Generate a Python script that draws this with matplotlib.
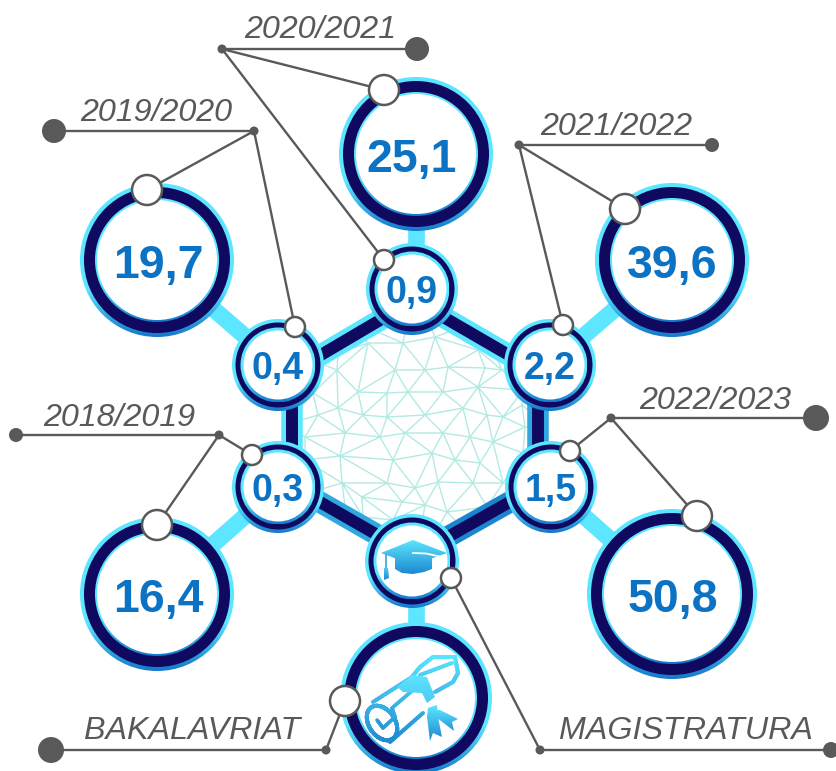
import numpy as np
import matplotlib
matplotlib.use("Agg")
import matplotlib.pyplot as plt
from matplotlib.patches import Circle, Polygon
from matplotlib.collections import LineCollection
from matplotlib.colors import LinearSegmentedColormap
from matplotlib.tri import Triangulation

plt.rcParams['font.family'] = ['Liberation Sans', 'DejaVu Sans']

# --- data
years = ["2018/2019", "2019/2020", "2020/2021", "2021/2022", "2022/2023"]
bakalavriat = ["16,4", "19,7", "25,1", "39,6", "50,8"]
magistratura = ["0,3", "0,4", "0,9", "2,2", "1,5"]
level_labels = ["BAKALAVRIAT", "MAGISTRATURA"]

# --- layout (pixels)
W, H = 837, 771
outer_xy = [(157, 594), (157, 260), (416, 154), (672, 260), (672, 594)]
outer_text_x = [158, 158, 412, 672, 673]
outer_r = [77, 77, 77, 77, 85]
inner_xy = [(278, 487), (278, 365), (412, 289), (550, 365), (551, 487)]
inner_r = [46, 46, 46, 46, 46]
link_start = [(278, 487), (278, 365), (416, 289), (550, 365), (551, 487)]
cap_xy, cap_r = (412, 561), 47
dip_xy, dip_r = (416, 698), 76
hex_xy = [(414, 300), (538, 372), (538, 486), (414, 556), (292, 486), (292, 372)]
hex_band = ["#5CE6FF", "#2FA8E0", "#1B86CF", "#2FA8E0", "#5CE6FF", "#5CE6FF"]
year_text_xy = [(119, 426), (156, 121), (320, 38), (616, 135), (715, 409)]
leaders = [
    dict(end=(16, 435), end_r=7, hub=(219, 435), a=(157, 525), b=(252, 455)),
    dict(end=(54, 131), end_r=12, hub=(254, 131), a=(147, 190), b=(295, 327)),
    dict(end=(417, 49), end_r=12, hub=(222, 49), a=(384, 90), b=(384, 260)),
    dict(end=(712, 145), end_r=7, hub=(519, 145), a=(625, 209), b=(563, 325)),
    dict(end=(816, 418), end_r=13, hub=(611, 418), a=(697, 516), b=(570, 451)),
]
mesh_x = [337, 358, 338, 363, 318, 305, 345, 380, 387, 408, 387, 395, 425, 443, 425, 405, 443, 463, 478, 448,
          487, 470, 493, 525, 432, 393, 340, 305, 342, 387, 362, 415, 455, 480, 438, 473, 503, 425, 402, 447,
          487, 363, 393, 523, 338, 368, 403, 435, 478, 485, 502, 523, 313, 522, 503,
          285, 285, 545, 545, 414, 414, 350, 480, 350, 480, 285, 545]
mesh_y = [370, 392, 408, 415, 415, 437, 433, 437, 417, 392, 393, 370, 370, 392, 415, 433, 433, 408, 387, 367,
          415, 437, 442, 427, 453, 460, 456, 460, 483, 483, 497, 488, 460, 463, 482, 483, 483, 505, 502, 512,
          507, 517, 520, 453, 353, 343, 343, 337, 350, 368, 370, 390, 393, 405, 417,
          350, 500, 350, 500, 285, 570, 320, 320, 545, 545, 425, 425]

CY = "#5CE6FF"; NAVY = "#0F0A5F"; BLUE = "#1478CC"; TXT = "#0B72C4"; GREY = "#595959"
edge_cm = LinearSegmentedColormap.from_list("e", [(0, CY), (0.68, CY), (1, BLUE)])
icon_cm = LinearSegmentedColormap.from_list("i", [(0, CY), (1, "#1E88D0")])

fig = plt.figure(figsize=(W/100, H/100), dpi=100)
ax = fig.add_axes([0, 0, 1, 1])
ax.set_xlim(0, W); ax.set_ylim(H, 0); ax.axis("off")


def grad(patch, x0, x1, y0, y1, cmap, z):
    im = ax.imshow(np.linspace(0, 1, 256)[:, None], cmap=cmap, extent=(x0, x1, y1, y0),
                   aspect="auto", zorder=z, interpolation="bilinear")
    patch.set(facecolor="none", edgecolor="none", transform=ax.transData)
    ax.add_patch(patch)
    im.set_clip_path(patch)
    ax.set_xlim(0, W); ax.set_ylim(H, 0)


def ring(xy, r, z, cy_w, nav, gap):
    x, y = xy
    grad(Circle(xy, r), x-r, x+r, y-r, y+r, edge_cm, z)
    ax.add_patch(Circle(xy, r-cy_w, fc=NAVY, ec="none", zorder=z+.1))
    ri = r-cy_w-nav
    grad(Circle(xy, ri), x-ri, x+ri, y-ri, y+ri, edge_cm, z+.2)
    ax.add_patch(Circle(xy, ri-gap, fc="white", ec="none", zorder=z+.3))


# mesh
hex_patch = Polygon(hex_xy, closed=True, fc="none", ec="none", transform=ax.transData)
ax.add_patch(hex_patch)
tri = Triangulation(mesh_x, mesh_y)
for ln in ax.triplot(tri, color="#B3EAE5", lw=1.0, zorder=1):
    ln.set_clip_path(hex_patch)
ax.set_xlim(0, W); ax.set_ylim(H, 0)

# connectors
for a, b in zip(link_start + [(416, cap_xy[1])], outer_xy + [dip_xy]):
    ax.plot([a[0], b[0]], [a[1], b[1]], color=CY, lw=12, solid_capstyle="butt", zorder=2)
hx = np.array(hex_xy)
for i in range(6):
    a, b = hx[i], hx[(i+1) % 6]
    ax.plot([a[0], b[0]], [a[1], b[1]], color=hex_band[i], lw=15.5,
            solid_capstyle="projecting", zorder=2.2)
ax.add_patch(Polygon(hex_xy, closed=True, fc="none", ec=NAVY, lw=8.6, joinstyle="miter", zorder=2.4))

# rings and values
for xy, tx, r, v in zip(outer_xy, outer_text_x, outer_r, bakalavriat):
    ring(xy, r, 3, 4, 11, 2)
    ax.text(tx, xy[1]+18, v, color=TXT, fontsize=33.5, fontweight="bold", ha="center", va="baseline", zorder=5)
for xy, r, v in zip(inner_xy, inner_r, magistratura):
    ring(xy, r, 3, 3.5, 5, 3)
    ax.text(xy[0], xy[1]+14, v, color=TXT, fontsize=27, fontweight="bold", ha="center", va="baseline", zorder=5)
ring(cap_xy, cap_r, 3, 3.5, 5, 3)
ring(dip_xy, dip_r, 3, 4, 11, 2)

# cap icon
cx0, cy0 = cap_xy
body = Polygon([(cx0-17, cy0-5), (cx0+20, cy0-5), (cx0+20, cy0+8), (cx0+12, cy0+11), (cx0+1, cy0+13), (cx0-10, cy0+12), (cx0-17, cy0+8)], closed=True)
grad(body, cx0-17, cx0+20, cy0-21, cy0+13, icon_cm, 4)
board = Polygon([(cx0-31, cy0-8), (cx0+1, cy0-21), (cx0+35, cy0-8), (cx0+1, cy0+4)], closed=True)
grad(board, cx0-31, cx0+35, cy0-21, cy0+13, icon_cm, 4.1)
ax.plot([cx0+1, cx0+14, cx0+30], [cy0-8, cy0-7.5, cy0-4], color="white", lw=1.3, zorder=4.2)
ax.plot([cx0-26, cx0-26], [cy0-6, cy0+8], color="#2FA7DF", lw=1.2, zorder=4.2)
tassel = Polygon([(cx0-28, cy0+7), (cx0-24, cy0+7), (cx0-23, cy0+17), (cx0-28, cy0+19)], closed=True)
grad(tassel, cx0-28, cx0-23, cy0+2, cy0+19, icon_cm, 4.2)

# diploma icon: strokes shaded top to bottom, band and ribbons
ix, iy = 416, 722
t = np.linspace(0, 2*np.pi, 60)
ang = np.radians(-35)
ex = 13*np.cos(t); ey = 19*np.sin(t)


def L(xs, ys, lw=2.9):
    xs, ys = np.asarray(xs, float), np.asarray(ys, float)
    u = np.linspace(0, len(xs)-1, (len(xs)-1)*12+1)
    px = np.interp(u, np.arange(len(xs)), xs) + ix
    py = np.interp(u, np.arange(len(ys)), ys) + iy
    pts = np.column_stack([px, py])
    segs = np.stack([pts[:-1], pts[1:]], axis=1)
    lc = LineCollection(segs, colors=icon_cm((py[:-1]-(iy-68))/90), linewidths=lw, capstyle="round", zorder=4)
    ax.add_collection(lc)


L([-43, -4, 4, 17, 39, 42, 37, 19], [-20, -45, -55, -65, -65, -49, -40, -30])
L([-26, 7], [20, -9])
L([4, 36], [-47, -59])
L(-34 + ex*np.cos(ang) - ey*np.sin(ang), 1 + ex*np.sin(ang) + ey*np.cos(ang), 2.8)
L([-39, -33, -21, -24, -3], [-2, 6, -5, -14, -32], 2.6)
band = Polygon(np.array([(-19, -35), (-4, -47), (11, -45), (19, -25), (11, -19), (6, -29), (-13, -30)]) + [ix, iy], closed=True)
grad(band, ix-19, ix+19, iy-47, iy-15, LinearSegmentedColormap.from_list("b", ["#5FE4FF", "#45C8F0"]), 4.1)
r1 = Polygon(np.array([(12, -14), (21, -17), (22, -5), (26, 15), (17, 11), (14, 19), (11, -5)]) + [ix, iy], closed=True)
grad(r1, ix+10, ix+26, iy-17, iy+19, icon_cm, 4)
r2 = Polygon(np.array([(19, -12), (24, -12), (42, -3), (36, 0), (38, 9), (29, 2), (21, -4)]) + [ix, iy], closed=True)
grad(r2, ix+18, ix+42, iy-14, iy+12, icon_cm, 4)


def dot(xy, r, z=7):
    ax.add_patch(Circle(xy, r, fc=GREY, ec="none", zorder=z))


def knob(xy, r):
    ax.add_patch(Circle(xy, r, fc="white", ec=GREY, lw=1.8, zorder=8))


def seg(p, q):
    ax.plot([p[0], q[0]], [p[1], q[1]], color=GREY, lw=1.7, solid_capstyle="round", zorder=6)


for d, y, p in zip(leaders, years, year_text_xy):
    seg(d["end"], d["hub"]); seg(d["hub"], d["a"]); seg(d["hub"], d["b"])
    dot(d["end"], d["end_r"]); dot(d["hub"], 4.5)
    knob(d["a"], 15); knob(d["b"], 10)
    ax.text(p[0], p[1], y, color=GREY, fontsize=23.2, style="italic", ha="center", va="baseline", zorder=9)

# level leaders
seg((51, 750), (326, 750)); seg((326, 750), (345, 701))
dot((51, 750), 13); dot((326, 750), 4.5); knob((345, 701), 15)
seg((831, 750), (540, 750)); seg((540, 750), (451, 578))
dot((831, 750), 8); dot((540, 750), 4.5); knob((451, 578), 10)
ax.text(192, 739, level_labels[0], color=GREY, fontsize=23.2, style="italic", ha="center", va="baseline", zorder=9)
ax.text(686, 739, level_labels[1], color=GREY, fontsize=23.2, style="italic", ha="center", va="baseline", zorder=9)

fig.savefig("out.png", dpi=100)
